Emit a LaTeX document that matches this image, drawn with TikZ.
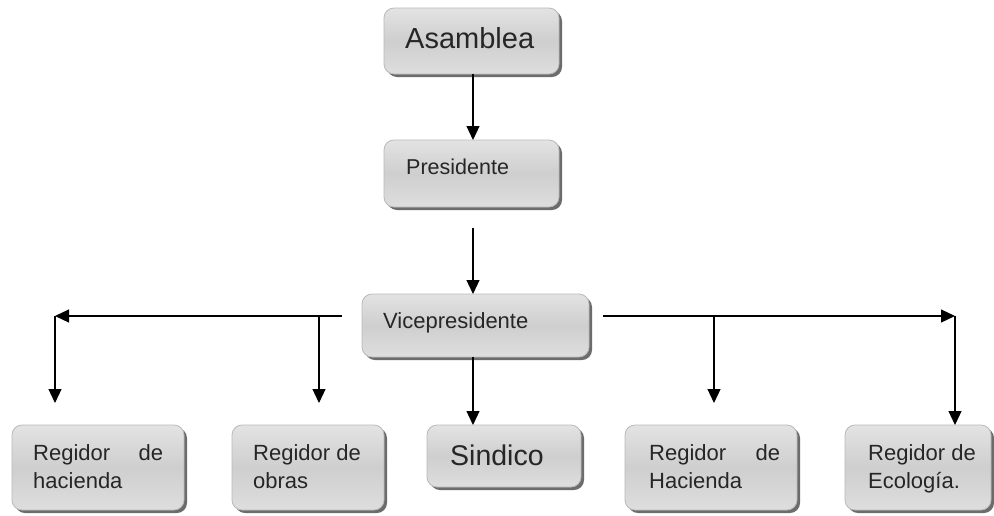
\documentclass[tikz,border=0pt]{standalone}
\usepackage{fontspec}
\setmainfont{Liberation Sans}
\usetikzlibrary{arrows.meta,shadows,calc}
\tikzset{
  orgbox/.style={draw=gray!55, line width=0.8pt, rounded corners=10pt, top color=gray!22, bottom color=gray!26, middle color=gray!38, inner sep=0pt, outer sep=0pt,
    drop shadow={opacity=1, fill=gray!85!black, shadow xshift=3pt, shadow yshift=-3pt}},
  lbl/.style={anchor=base west, inner sep=0pt, text=black!85, font=\fontsize{22pt}{28pt}\selectfont, align=left},
  arr/.style={line width=1.2pt, -{Triangle[length=14pt,width=13pt]}},
  ln/.style={line width=1.2pt}
}
\begin{document}
\begin{tikzpicture}[x=1pt,y=-1pt]
\useasboundingbox[fill=white] (0,0) rectangle (994,515);
% boxes
\node[orgbox, minimum width=175pt, minimum height=66pt] (asam) at (471.5,41) {};
\node[orgbox, minimum width=175pt, minimum height=67pt] (pres) at (471.5,173.5) {};
\node[orgbox, minimum width=227pt, minimum height=63pt] (vice) at (475.5,325.5) {};
\node[orgbox, minimum width=172pt, minimum height=85pt] (b1) at (98,467.5) {};
\node[orgbox, minimum width=152pt, minimum height=85pt] (b2) at (308,467.5) {};
\node[orgbox, minimum width=154pt, minimum height=62pt] (sind) at (504,456) {};
\node[orgbox, minimum width=172pt, minimum height=85pt] (b4) at (711,467.5) {};
\node[orgbox, minimum width=146pt, minimum height=85pt] (b5) at (918,467.5) {};
% texts
\node[lbl, font=\fontsize{29pt}{34pt}\selectfont] (tasam) at (405,48) {Asamblea};
\node[lbl, font=\fontsize{21.5pt}{26pt}\selectfont] (tpres) at (406,174) {Presidente};
\node[lbl] (tvice) at (383,328) {Vicepresidente};
\node[lbl, font=\fontsize{28.5pt}{34pt}\selectfont] (tsind) at (450,465) {Sindico};
\node[lbl] (tb1) at (33,488) {\hbox to 130pt{Regidor\hfill de}\\hacienda};
\node[lbl] (tb2) at (253,488) {Regidor de\\obras};
\node[lbl] (tb4) at (649,488) {\hbox to 131pt{Regidor\hfill de}\\Hacienda};
\node[lbl] (tb5) at (868,488) {Regidor de\\Ecología.};
% coordinates
\coordinate (p2) at (473,228);
\coordinate (ls) at (342,316);
\coordinate (le) at (55,316);
\coordinate (le2) at (55,403);
\coordinate (lm) at (319,316);
\coordinate (lm2) at (319,403);
\coordinate (rs) at (603,316);
\coordinate (re) at (955,316);
\coordinate (rm) at (714,316);
\coordinate (rm2) at (714,403);
% connectors
\draw[arr] ([xshift=1.5pt]asam.south) -- ([xshift=1.5pt]pres.north);
\draw[arr] (p2) -- (p2 |- vice.north);
\draw[arr] (ls) -- (le);
\draw[arr] (le) -- (le2);
\draw[arr] (lm) -- (lm2);
\draw[arr] (rs) -- (re);
\draw[arr] (re) -- (re |- b5.north);
\draw[arr] (rm) -- (rm2);
\draw[arr] ([xshift=-2.5pt]vice.south) -- ([xshift=-2.5pt]vice.south |- sind.north);
\end{tikzpicture}
\end{document}
